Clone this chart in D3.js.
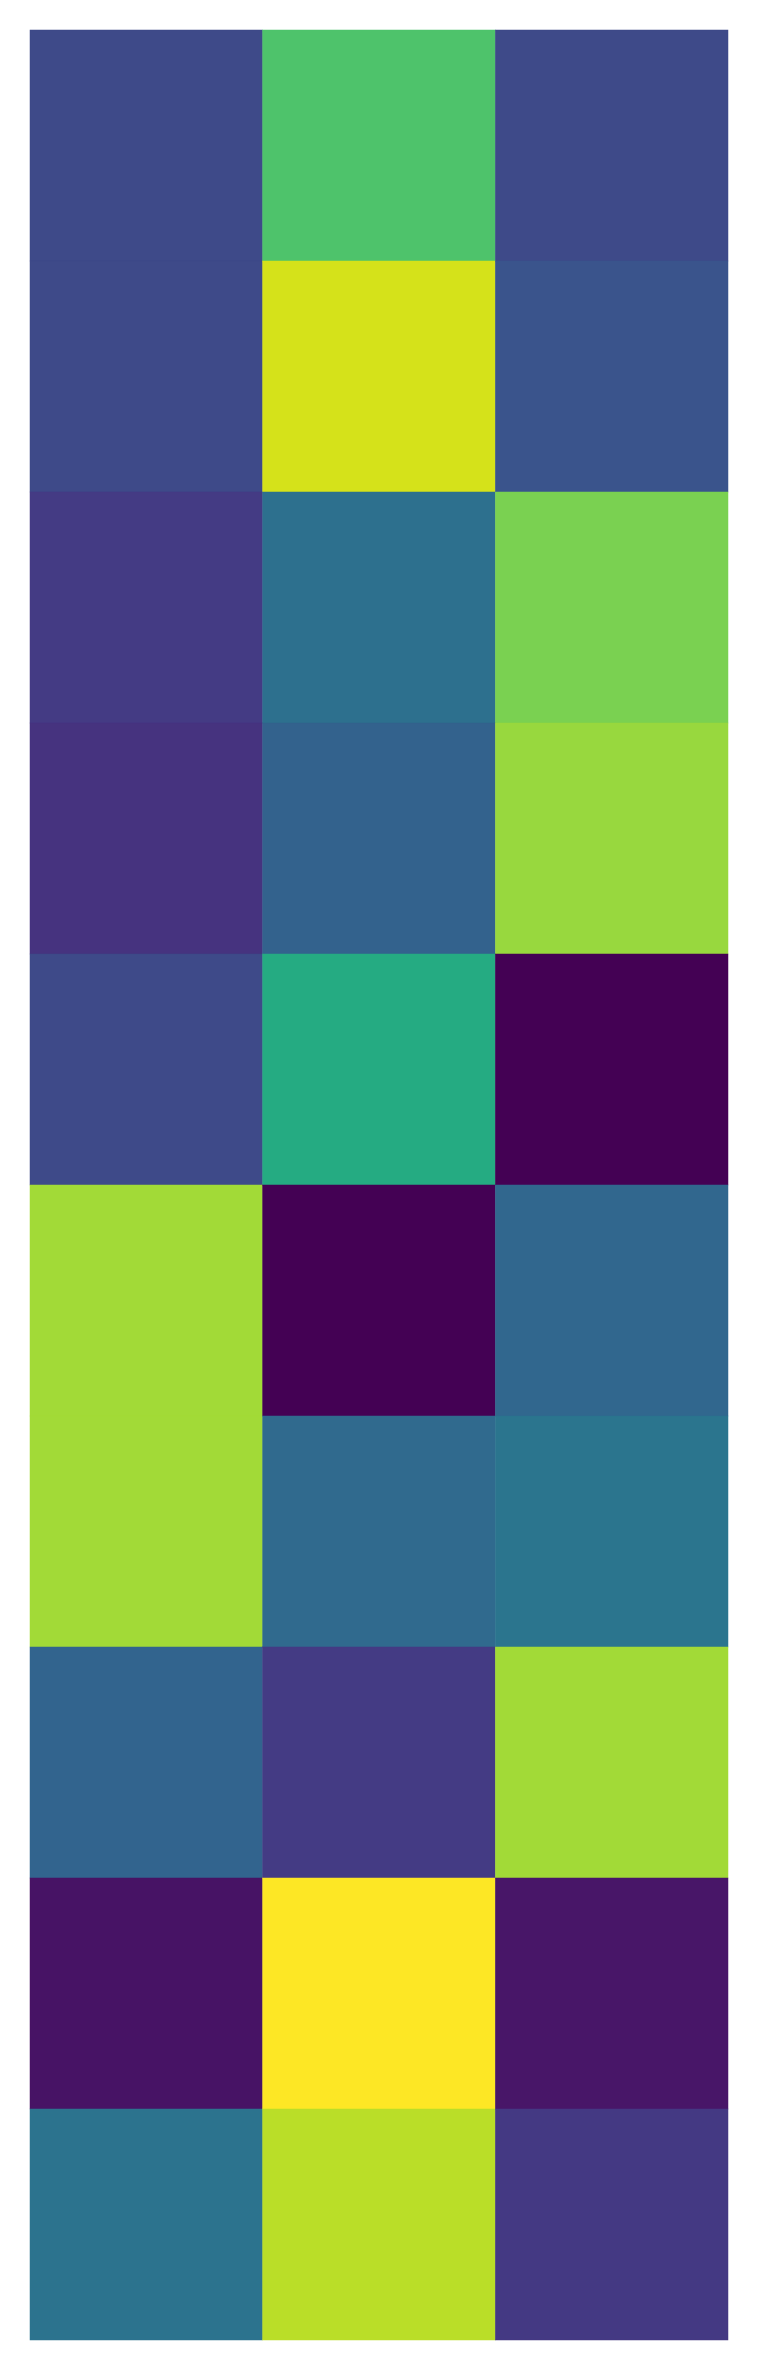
<!DOCTYPE html>
<html>
<head>
<meta charset="utf-8">
<script src="https://cdn.jsdelivr.net/npm/d3@7"></script>
<style>html,body{margin:0;padding:0;background:#fff;}</style>
</head>
<body>
<svg id="chart" width="757" height="2370"></svg>
<script>
const rows = ["r0","r1","r2","r3","r4","r5","r6","r7","r8","r9"];
const cols = ["c0","c1","c2"];
const values = [
  [0.225, 0.72, 0.225],
  [0.225, 0.935, 0.26],
  [0.175, 0.365, 0.80],
  [0.145, 0.31, 0.845],
  [0.225, 0.61, 0.00],
  [0.86, 0.00, 0.33],
  [0.86, 0.34, 0.39],
  [0.32, 0.175, 0.86],
  [0.05, 1.00, 0.055],
  [0.38, 0.895, 0.165]
];
const svg = d3.select("#chart");
const margin = {left:30, top:30, right:29, bottom:30};
const W = 757, H = 2370;
const x = d3.scaleBand().domain(cols).range([margin.left, W - margin.right]).padding(0);
const y = d3.scaleBand().domain(rows).range([margin.top, H - margin.bottom]).padding(0);
const color = d3.scaleSequential(d3.interpolateViridis).domain([0,1]);
const cells = [];
rows.forEach((r,i)=>cols.forEach((c,j)=>cells.push({r,c,v:values[i][j]})));
svg.selectAll("rect").data(cells).join("rect")
  .attr("x", d=>x(d.c)).attr("y", d=>y(d.r))
  .attr("width", x.bandwidth()).attr("height", y.bandwidth())
  .attr("fill", d=>color(d.v))
  .attr("stroke", d=>color(d.v)).attr("stroke-width", 0.5);
</script>
</body>
</html>
